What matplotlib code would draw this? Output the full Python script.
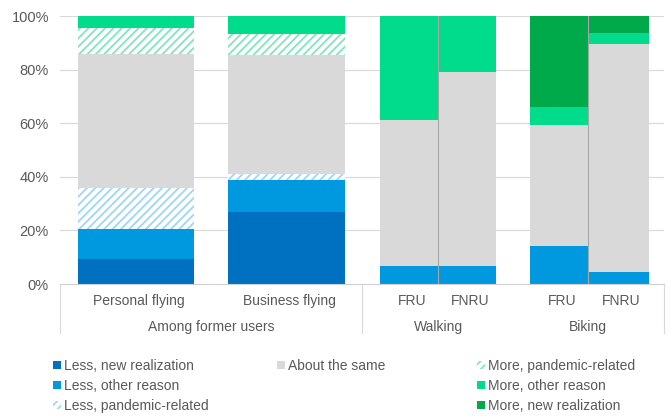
import matplotlib
matplotlib.use("Agg")
import matplotlib.pyplot as plt
from matplotlib.patches import Patch
from matplotlib.lines import Line2D
from matplotlib.transforms import blended_transform_factory

plt.rcParams['font.family'] = ['Liberation Sans', 'DejaVu Sans']
plt.rcParams['hatch.linewidth'] = 1.3

# ---- data ----
bar_labels = ["Personal flying", "Business flying", "FRU", "FNRU", "FRU", "FNRU"]
group_labels = ["Among former users", "Walking", "Biking"]
series_names = ["Less, new realization", "Less, other reason", "Less, pandemic-related",
                "About the same", "More, pandemic-related", "More, other reason",
                "More, new realization"]
less_new = [9.3, 27.0, 0.0, 0.0, 0.0, 0.0]
less_other = [11.2, 11.8, 6.8, 6.7, 14.3, 4.4]
less_pandemic = [15.4, 2.4, 0.0, 0.0, 0.0, 0.0]
about_same = [50.0, 44.4, 54.5, 72.3, 44.9, 85.0]
more_pandemic = [9.5, 7.7, 0.0, 0.0, 0.0, 0.0]
more_other = [4.6, 6.7, 38.7, 21.0, 6.8, 4.4]
more_new = [0.0, 0.0, 0.0, 0.0, 34.0, 6.2]
yticks = [0, 20, 40, 60, 80, 100]

# ---- layout ----
centers = [76, 226.5, 349, 407, 499, 558.5]
widths = [116, 117, 58, 58, 58, 61]
group_centers = [151, 378, 528]
group_seps = [0, 302, 604]
pair_seps = [378, 528]
FS = 10

styles = [
    dict(color="#0070C0"),
    dict(color="#0099E0"),
    dict(facecolor="white", edgecolor="#9ED6F5", hatch="////"),
    dict(color="#D9D9D9"),
    dict(facecolor="white", edgecolor="#80E6BE", hatch="////"),
    dict(color="#00DC8C"),
    dict(color="#00AA4B"),
]
series = [less_new, less_other, less_pandemic, about_same, more_pandemic, more_other, more_new]

fig = plt.figure(figsize=(6.71, 4.16), dpi=100)
ax = fig.add_axes([60/671, 1-284/416, 604/671, 268/416])

bottom = [0.0]*len(bar_labels)
for vals, st in zip(series, styles):
    ax.bar(centers, vals, width=widths, bottom=bottom, linewidth=0, zorder=2, **st)
    bottom = [b+v for b, v in zip(bottom, vals)]

for s in pair_seps:
    ax.plot([s, s], [0, 100], color="#A6A6A6", lw=0.8, zorder=3)

ax.set_xlim(0, 604)
ax.set_ylim(0, 100)
ax.set_yticks(yticks)
ax.set_yticklabels([f"{t}%" for t in yticks], color="#595959", fontsize=FS+0.5)
ax.tick_params(axis='y', length=0, pad=8)
ax.set_xticks([])
for y in yticks[1:]:
    ax.axhline(y, color="#D9D9D9", lw=0.8, zorder=1)
for sp in ["top", "right", "left"]:
    ax.spines[sp].set_visible(False)
ax.spines["bottom"].set_color("#D0D0D0")
ax.spines["bottom"].set_linewidth(0.8)

tr = blended_transform_factory(ax.transData, fig.transFigure)
for c, lab in zip(centers, bar_labels):
    ax.text(c+3, 1-301/416, lab, transform=tr, ha="center", va="center",
            fontsize=FS, color="#595959")
for c, lab in zip(group_centers, group_labels):
    ax.text(c, 1-327/416, lab, transform=tr, ha="center", va="center",
            fontsize=FS, color="#595959")
for s in group_seps:
    ax.add_line(Line2D([s, s], [1-284/416, 1-333/416], transform=tr,
                       color="#D9D9D9", lw=0.8, clip_on=False))

handles = [Patch(linewidth=0, **st) for st in styles]
cols = [([0, 1, 2], 53), ([3], 277), ([4, 5, 6], 477)]
for idx, xpx in cols:
    fig.legend([handles[i] for i in idx], [series_names[i] for i in idx],
               loc="upper left", bbox_to_anchor=(xpx/671, 1-359/416),
               frameon=False, fontsize=FS, labelcolor="#595959",
               handlelength=0.55, handleheight=0.55, handletextpad=0.25,
               labelspacing=0.42, borderpad=0, borderaxespad=0)

fig.savefig("out.png", dpi=100)
